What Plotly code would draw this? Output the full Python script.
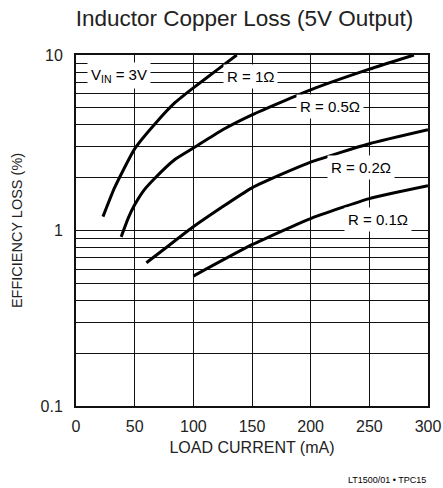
import plotly.graph_objects as go
import math

# ---- data ----
r1_x = [23, 33, 50, 68, 85, 100, 120, 137]
r1_y = [1.2, 1.76, 2.92, 4.1, 5.4, 6.5, 8.2, 10.0]

r05_x = [38.5, 44.6, 50, 58, 67, 84, 100, 125, 150, 200, 250, 288]
r05_y = [0.92, 1.18, 1.4, 1.7, 1.98, 2.53, 2.95, 3.75, 4.56, 6.33, 8.3, 10.0]

r02_x = [60, 80, 100, 150, 200, 250, 300]
r02_y = [0.655, 0.83, 1.05, 1.75, 2.45, 3.12, 3.75]

r01_x = [100, 150, 200, 250, 300]
r01_y = [0.55, 0.83, 1.17, 1.52, 1.80]

x_ticks = [0, 50, 100, 150, 200, 250, 300]
y_tickvals = [0.1, 0.2, 0.3, 0.4, 0.5, 0.6, 0.7, 0.8, 0.9,
              1, 2, 3, 4, 5, 6, 7, 8, 9, 10]
y_ticktext = ["0.1", "", "", "", "", "", "", "", "",
              "1", "", "", "", "", "", "", "", "", "10"]

labels = ["V<sub>IN</sub> = 3V", "R = 1Ω", "R = 0.5Ω", "R = 0.2Ω", "R = 0.1Ω"]
label_x = [36.5, 149, 216.5, 243, 257]
label_y = [7.6, 7.55, 5.08, 2.29, 1.16]

FONT = "Liberation Sans, Arial, sans-serif"

fig = go.Figure()
for xs, ys in [(r1_x, r1_y), (r05_x, r05_y), (r02_x, r02_y), (r01_x, r01_y)]:
    fig.add_trace(go.Scatter(x=xs, y=ys, mode="lines",
                             line=dict(color="black", width=3, shape="spline", smoothing=0.5),
                             showlegend=False, hoverinfo="skip"))

for t, lx, ly in zip(labels, label_x, label_y):
    fig.add_annotation(x=lx, y=math.log10(ly), xref="x", yref="y", text=t,
                       showarrow=False, bgcolor="white", borderpad=3,
                       font=dict(family=FONT, size=15, color="black"))

fig.add_annotation(x=1.0, y=-0.211, xref="paper", yref="paper", xanchor="right",
                   yanchor="middle", text="LT1500/01 • TPC15", showarrow=False,
                   font=dict(family=FONT, size=9, color="black"))

fig.update_layout(
    width=443, height=488,
    margin=dict(l=76, r=15, t=55, b=82),
    paper_bgcolor="white", plot_bgcolor="white",
    font=dict(family=FONT, size=16, color="#222"),
    title=dict(text="Inductor Copper Loss (5V Output)", x=0.552, xanchor="center",
               y=0.963, yanchor="middle", font=dict(family=FONT, size=22.5, color="#222")),
    xaxis=dict(range=[0, 300], tickvals=x_ticks, showgrid=True, gridcolor="#111",
               gridwidth=1, zeroline=False, showline=True, linecolor="#111",
               linewidth=2, mirror=True, ticks="", ticklabelstandoff=5, automargin=False,
               title=dict(text="LOAD CURRENT (mA)", standoff=8,
                          font=dict(family=FONT, size=16, color="#222")),
               tickfont=dict(family=FONT, size=16, color="#222")),
    yaxis=dict(type="log", range=[-1, 1], tickvals=y_tickvals, ticktext=y_ticktext,
               showgrid=True, gridcolor="#111", gridwidth=1, zeroline=False,
               showline=True, linecolor="#111", linewidth=2, mirror=True, ticks="",
               ticklabelstandoff=8, automargin=False,
               title=dict(text="EFFICIENCY LOSS (%)", standoff=14,
                          font=dict(family=FONT, size=14.5, color="#222")),
               tickfont=dict(family=FONT, size=16, color="#222")),
)

fig.write_html("out.html", config={"displayModeBar": False},
               post_script="document.body.style.margin='0';document.body.style.overflow='hidden';")
